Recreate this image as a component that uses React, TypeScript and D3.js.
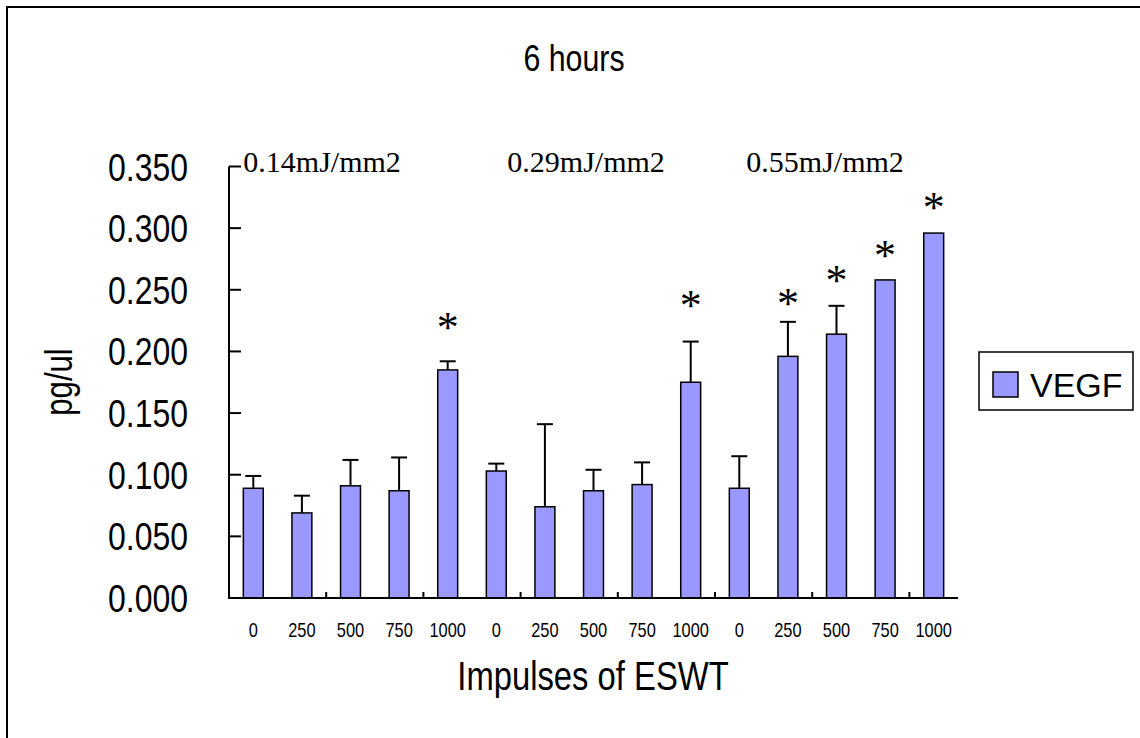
import * as d3 from "d3";
import { useEffect, useRef } from "react";

// impulses for each bar, three dose groups of five
const categories = ["0", "250", "500", "750", "1000", "0", "250", "500", "750", "1000", "0", "250", "500", "750", "1000"];
const vegf = [0.089, 0.069, 0.091, 0.087, 0.185, 0.103, 0.074, 0.087, 0.092, 0.175, 0.089, 0.196, 0.214, 0.258, 0.296];
const vegfErr = [0.010, 0.014, 0.021, 0.027, 0.007, 0.006, 0.067, 0.017, 0.018, 0.033, 0.026, 0.028, 0.023, 0, 0];
// level (pg/ul) where the significance star sits, null = no star
const starLevels = [null, null, null, null, 0.224, null, null, null, null, 0.242, null, 0.243, 0.262, 0.282, 0.321];
const doses = ["0.14mJ/mm2", "0.29mJ/mm2", "0.55mJ/mm2"];
const yTicks = [0, 0.05, 0.1, 0.15, 0.2, 0.25, 0.3, 0.35];

const SANS = "'Liberation Sans', Arial, sans-serif";
const SERIF = "'Liberation Serif', 'Times New Roman', serif";
const NARROW = 0.82; // no narrow face installed, squeeze Liberation Sans instead

export default function App() {
  const ref = useRef(null);

  useEffect(() => {
    const svg = d3.select(ref.current);
    svg.selectAll("*").remove();

    // narrow sans text at (tx, ty)
    const narrow = (sel: any, tx: number, ty: number, size: number, anchor: string, txt: string, rot = 0) =>
      sel.append("text")
        .attr("transform", `translate(${tx},${ty})${rot ? ` rotate(${rot})` : ""} scale(${NARROW},1)`)
        .attr("text-anchor", anchor)
        .style("font-family", SANS).style("font-size", size + "px").text(txt);

    const idx = categories.map((_, i) => i);
    const x = d3.scaleBand<number>().domain(idx).range([229, 958]).paddingInner(0.59).paddingOuter(0.295);
    const y = d3.scaleLinear().domain([0, 0.35]).range([598, 166.5]);
    const step = x.step();

    // outer frame (right / bottom run off the picture)
    svg.append("path").attr("d", "M7,738V7H1140").attr("fill", "none").attr("stroke", "#000").attr("stroke-width", 2);

    narrow(svg, 574, 71, 37, "middle", "6 hours");

    // bars
    const g = svg.append("g");
    g.selectAll("rect.bar").data(vegf).enter().append("rect")
      .attr("x", (d, i) => x(i)!)
      .attr("y", (d) => y(d))
      .attr("width", x.bandwidth())
      .attr("height", (d) => y(0) - y(d))
      .attr("fill", "#9999ff")
      .attr("stroke", "#000")
      .attr("stroke-width", 1.5);

    // error bars (upper only)
    vegf.forEach((v, i) => {
      if (!vegfErr[i]) return;
      const cx = x(i)! + x.bandwidth() / 2;
      const top = y(v + vegfErr[i]);
      g.append("line").attr("x1", cx).attr("x2", cx).attr("y1", y(v)).attr("y2", top)
        .attr("stroke", "#000").attr("stroke-width", 2);
      g.append("line").attr("x1", cx - 8).attr("x2", cx + 8).attr("y1", top).attr("y2", top)
        .attr("stroke", "#000").attr("stroke-width", 2);
    });

    // stars
    starLevels.forEach((s, i) => {
      if (s == null) return;
      const cx = x(i)! + x.bandwidth() / 2;
      g.append("text").attr("x", cx).attr("y", y(s) + 20).attr("text-anchor", "middle")
        .style("font-family", SERIF).style("font-size", "44px").text("*");
    });

    // y axis
    const ya = svg.append("g");
    ya.append("line").attr("x1", 229).attr("x2", 229).attr("y1", y(0.35)).attr("y2", y(0) + 1)
      .attr("stroke", "#000").attr("stroke-width", 2);
    yTicks.forEach((t) => {
      ya.append("line").attr("x1", 229).attr("x2", 241).attr("y1", y(t)).attr("y2", y(t))
        .attr("stroke", "#000").attr("stroke-width", 2);
      narrow(ya, 188, y(t) + 14, 39, "end", d3.format(".3f")(t));
    });

    // x axis
    const xa = svg.append("g");
    xa.append("line").attr("x1", 228).attr("x2", 958).attr("y1", y(0)).attr("y2", y(0))
      .attr("stroke", "#000").attr("stroke-width", 2);
    for (let k = 2; k < categories.length; k += 2) {
      const bx = 229 + step * k;
      xa.append("line").attr("x1", bx).attr("x2", bx).attr("y1", y(0)).attr("y2", y(0) - 6)
        .attr("stroke", "#000").attr("stroke-width", 2);
    }
    categories.forEach((c, i) => {
      narrow(xa, x(i)! + x.bandwidth() / 2, 637, 20, "middle", c);
    });

    narrow(svg, 593, 690, 40, "middle", "Impulses of ESWT");
    narrow(svg, 72, 382, 38, "middle", "pg/ul", -90);

    // dose group labels
    const labelDx = [0, 21, 17];
    doses.forEach((d, k) => {
      svg.append("text").attr("x", x(k * 5)! + labelDx[k]).attr("y", 172)
        .style("font-family", SERIF).style("font-size", "30px").text(d);
    });

    // legend
    const lg = svg.append("g");
    lg.append("rect").attr("x", 979).attr("y", 352).attr("width", 154).attr("height", 58)
      .attr("fill", "#fff").attr("stroke", "#000").attr("stroke-width", 1.5);
    lg.append("rect").attr("x", 993).attr("y", 372).attr("width", 25).attr("height", 25)
      .attr("fill", "#9999ff").attr("stroke", "#000").attr("stroke-width", 1.5);
    lg.append("text").attr("x", 1030).attr("y", 397)
      .style("font-family", SANS).style("font-size", "34px").text("VEGF");
  }, []);

  return <svg ref={ref} width={1140} height={738} style={{ position: "absolute", left: 0, top: 0, background: "#fff" }} />;
}
